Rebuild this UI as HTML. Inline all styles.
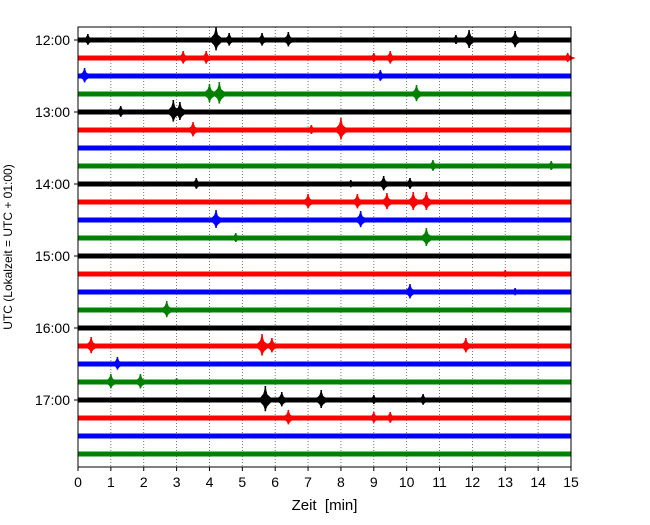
<!DOCTYPE html>
<html><head><meta charset="utf-8"><style>
body{margin:0;background:#fff;}
svg{font-family:"Liberation Sans",sans-serif;}
</style></head><body>
<svg id="c" width="650" height="520"></svg>
<script>
const minutes=[0,1,2,3,4,5,6,7,8,9,10,11,12,13,14,15];
const hourLabels=["12:00","13:00","14:00","15:00","16:00","17:00"];
const rowCount=24;
const colors=["#000000","#ff0000","#0000ff","#008000"];
// [row, minute, amplitude]
const events=[
[0,0.3,6],[0,4.2,13],[0,4.6,7],[0,5.6,7],[0,6.4,8],[0,11.5,5],[0,11.9,10],[0,13.3,9],
[1,3.2,7],[1,3.9,7],[1,9.0,5],[1,9.5,7],[1,14.9,5],
[2,0.2,8],[2,9.2,6],
[3,4.0,10],[3,4.3,12],[3,10.3,9],
[4,1.3,6],[4,2.9,12],[4,3.1,10],
[5,3.5,8],[5,7.1,5],[5,8.0,12],
[7,10.8,6],[7,14.4,5],
[8,3.6,6],[8,8.3,4],[8,9.3,8],[8,10.1,6],
[9,7.0,8],[9,8.5,8],[9,9.4,9],[9,10.2,10],[9,10.6,10],
[10,4.2,10],[10,8.6,9],
[11,4.8,5],[11,10.6,10],
[13,13.0,4],
[14,10.1,8],[14,13.3,4],
[15,2.7,9],
[17,0.4,9],[17,5.6,12],[17,5.9,8],[17,11.8,8],
[18,1.2,7],
[19,1.0,8],[19,1.9,8],[19,3.0,4],
[20,5.7,14],[20,6.2,8],[20,7.4,10],[20,9.0,5],[20,10.5,6],
[21,6.4,8],[21,9.0,6],[21,9.5,6]
];
const L=78,R=571,T=27,B=467,Y0=40,DY=18;
const xs=m=>L+(m/15)*(R-L);
const ys=r=>Y0+r*DY;
const svg=document.getElementById('c');
const NS="http://www.w3.org/2000/svg";
function mk(t,a){const e=document.createElementNS(NS,t);for(const k in a)e.setAttribute(k,a[k]);svg.appendChild(e);return e;}
minutes.forEach(m=>{
 if(m>0&&m<15){const g=mk('line',{x1:xs(m),x2:xs(m),y1:T,y2:B,stroke:'#555','stroke-width':0.8,'stroke-dasharray':'1,2'});
 }
});
for(let r=0;r<rowCount;r++){
 const c=colors[r%4];
 const t=mk('rect',{x:L,y:ys(r)-2.5,width:R-L,height:5,fill:c});
 
 
}
events.forEach(ev=>{
 const [r,m,a]=ev;const x=xs(m),y=ys(r),c=colors[r%4];
 const p=mk('polygon',{points:`${x-7},${y} ${x-2},${y-a*0.45} ${x},${y-a} ${x+2},${y-a*0.4} ${x+8},${y} ${x+2},${y+a*0.45} ${x},${y+a*0.8} ${x-2},${y+a*0.4}`,fill:c});
 
 
 const s=mk('line',{x1:x,x2:x,y1:y-a,y2:y+a*0.8,stroke:c,'stroke-width':1.6});
 
 
});
const f=mk('rect',{x:L,y:T,width:R-L,height:B-T,fill:'none',stroke:'#000','stroke-width':1});

minutes.forEach(m=>{
 mk('line',{x1:xs(m),x2:xs(m),y1:B,y2:B+4,stroke:'#000'});
 const t=mk('text',{x:xs(m),y:B+20,'text-anchor':'middle','font-size':14});
 t.textContent=m;
});
hourLabels.forEach((h,i)=>{
 const y=ys(i*4);
 mk('line',{x1:L-4,x2:L,y1:y,y2:y,stroke:'#000'});
 const t=mk('text',{x:L-8,y:y+5,'text-anchor':'end','font-size':14});
 t.textContent=h;
});
const xt=mk('text',{x:(L+R)/2,y:510,'text-anchor':'middle','font-size':15});
xt.textContent='Zeit  [min]';
xt.style.whiteSpace='pre';
const yt=mk('text',{x:0,y:0,'text-anchor':'middle','font-size':12,transform:`translate(12,${(T+B)/2}) rotate(-90)`});
yt.textContent='UTC (Lokalzeit = UTC + 01:00)';
</script>
</body></html>
